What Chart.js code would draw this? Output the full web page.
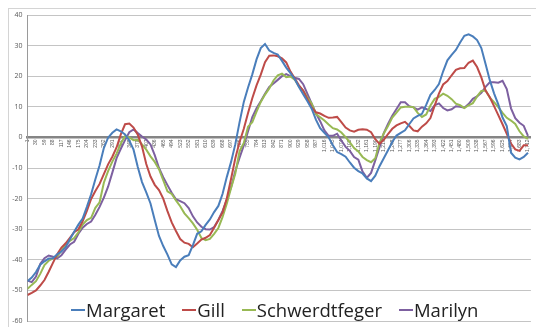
<!DOCTYPE html>
<html>
<head>
<meta charset="utf-8">
<script src="https://cdn.jsdelivr.net/npm/chart.js@4"></script>
<style>
  html, body { margin: 0; padding: 0; background: #fff; }
  #wrap { position: relative; width: 536px; height: 327px; }
  #frame { position: absolute; left: 8px; top: 8px; width: 527px; height: 318px; border: 1px solid #d4d4d4; border-right: none; border-bottom: none; }
  #grafico { position: absolute; left: 0; top: 0; }
  #legenda { position: absolute; left: 71px; top: 300px; display: flex; gap: 17px; font-family: "Open Sans", sans-serif; font-size: 18.5px; line-height: 20px; color: #222; }
  #legenda .item { display: flex; align-items: center; }
  #legenda .marca { width: 14px; height: 1.5px; margin-right: 1px; }
</style>
</head>
<body>
<div id="wrap">
  <div id="frame"></div>
  <canvas id="grafico" width="536" height="327"></canvas>
  <div id="legenda"></div>
</div>
<script>
// category positions (the tick labels of the x axis)
var categories = [1, 30, 59, 88, 117, 146, 175, 204, 233, 262, 291, 320, 349, 378, 407, 436, 465, 494, 523, 552,
  581, 610, 639, 668, 697, 726, 755, 784, 813, 842, 871, 900, 929, 958, 987, 1016, 1045, 1074, 1103, 1132,
  1161, 1190, 1219, 1248, 1277, 1306, 1335, 1364, 1393, 1422, 1451, 1480, 1509, 1538, 1567, 1596, 1625, 1654, 1683, 1712];

// values read at each category
var margaret = [-47, -44, -40.5, -39.5, -37.3, -33.3, -28.5, -22.7, -13.7, -3.5,
  1.5, 2, -1, -9.7, -18, -27, -35.5, -41.5, -40.2, -38.5,
  -31.5, -28.6, -24.4, -18.4, -8, 5, 16.3, 25.5, 30.5, 27.6,
  25, 21, 16.5, 11.8, 5.8, 1.5, -2.6, -5.5, -8.2, -11,
  -13.4, -12.5, -6.8, -1.5, 1.5, 4.3, 7, 10.6, 15.5, 21.6,
  27, 31, 33.7, 31.8, 24, 14.4, 6.5, -5, -7.2, -5];

var gill = [-51.5, -50, -46.6, -41, -36, -32.8, -30, -24, -17.5, -12,
  -6.3, 1, 4.5, 0.9, -8.7, -15.5, -20, -27.8, -33.2, -34.8,
  -34.7, -32.8, -29.5, -24.5, -13.5, -1.5, 8, 17, 24.6, 26.8,
  25.8, 21.5, 17, 12.5, 8.2, 7, 6.5, 5, 2.3, 2.5,
  2.5, -0.6, -0.8, 2.8, 4.6, 3.8, 2, 4.6, 10.4, 17.3,
  20.3, 22.6, 24.4, 23, 15.3, 10.2, 4.3, -2, -4.4, -2.6];

var schwerdtfeger = [-49.5, -47, -41.7, -39.5, -37, -33.8, -31, -27, -23, -14.8,
  -7.9, -2, 0, -0.8, -4, -8, -14, -18.5, -22.5, -26.4,
  -30.2, -33.6, -31.5, -26, -16.5, -4.5, 3.5, 8.4, 14, 18.6,
  20.8, 19.9, 16.7, 13, 7.6, 5.5, 3, 1.6, -1.6, -4.6,
  -7.4, -6.8, 1.3, 6.5, 9.8, 10, 8, 7.5, 12.6, 14.3,
  12.5, 10.5, 10.5, 13.4, 15.3, 11.5, 8, 5.5, 2, -0.5];

var marilyn = [-46.8, -45.5, -39.5, -39, -38.5, -35, -31.5, -28.3, -25.3, -19.7,
  -11.5, -3.7, 1.7, 1.4, -0.7, -5.8, -13, -18.1, -20.8, -23.1,
  -27.8, -30, -29.3, -24, -16.3, -6.6, 2, 9.5, 14.3, 17.6,
  20, 20, 19.1, 14.2, 7.9, 2.3, 0.5, -1, -4.4, -7.3,
  -13.2, -7.5, 1.4, 7.1, 11.5, 10.2, 9.1, 9.3, 10.5, 9.6,
  9.2, 10, 10.9, 13.4, 16.5, 18, 18.5, 9.5, 4.8, 0.5];

// values read halfway between two categories (keeps the ragged look)
var margaretMeio = [-45.8, -41.6, -39.6, -38.2, -35.9, -30.8, -26.5, -18.6, -9.1, -0.1,
  2.6, 1.0, -4.0, -14.6, -21.6, -32.2, -38.3, -42.4, -39.0, -35.2,
  -30.7, -26.8, -22.4, -12.9, -2.2, 11.6, 20.6, 29.2, 28.4, 27.1,
  22.8, 19.1, 14.1, 9.4, 3.0, 0.0, -4.8, -6.3, -9.9, -11.8,
  -14.3, -9.4, -4.2, 0.6, 2.3, 6.2, 7.7, 13.9, 17.4, 25.2,
  28.6, 33.2, 33.0, 29.2, 18.7, 10.8, 3.7, -6.6, -6.4];

var gillMeio = [-50.8, -48.4, -43.9, -38.2, -34.6, -31.0, -27.4, -20.1, -15.2, -8.8,
  -3.3, 4.3, 3.2, -3.0, -12.8, -17.2, -24.1, -30.6, -34.4, -35.9,
  -33.4, -31.9, -27.0, -19.9, -6.8, 2.8, 12.8, 20.5, 26.7, 26.5,
  24.5, 19.3, 15.3, 9.8, 7.8, 6.4, 6.7, 3.2, 1.9, 2.7,
  1.7, -2.1, 1.1, 3.9, 5.1, 2.3, 3.5, 6.3, 14.3, 18.4,
  22.1, 22.7, 25.1, 19.6, 13.1, 7.3, 1.2, -3.9, -2.6];

var schwerdtfegerMeio = [-48.2, -44.6, -40.3, -38.9, -35.0, -32.9, -28.5, -26.3, -21.2, -11.0,
  -5.3, 0.4, -0.9, -2.3, -6.2, -10.4, -17.6, -20.6, -24.8, -28.1,
  -32.9, -33.2, -29.6, -21.6, -11.8, -1.8, 5.0, 11.6, 16.0, 20.3,
  19.7, 18.9, 15.3, 11.1, 6.6, 4.2, 2.6, 0.1, -3.5, -6.4,
  -8.1, -1.7, 3.7, 8.1, 10.0, 9.9, 6.7, 10.4, 13.2, 13.6,
  11.0, 9.6, 11.2, 15.2, 13.0, 9.9, 6.4, 4.4, 0.3];

var marilynMeio = [-47.3, -41.4, -38.6, -39.5, -36.7, -34.1, -29.5, -27.5, -22.7, -16.1,
  -6.8, -0.9, 2.6, 0.3, -2.3, -10.0, -15.6, -20.2, -21.5, -25.8,
  -29.2, -30.1, -27.0, -20.3, -11.0, -2.6, 6.6, 11.8, 16.5, 18.8,
  20.7, 19.5, 17.4, 11.0, 5.3, 0.5, 1.2, -3.1, -6.4, -11.2,
  -11.6, -3.2, 4.4, 9.3, 11.5, 9.8, 9.8, 8.6, 11.1, 8.8,
  10.2, 9.7, 12.6, 14.6, 18.0, 17.9, 15.8, 6.3, 3.8];

var yTicks = [-60, -50, -40, -30, -20, -10, 0, 10, 20, 30, 40];

// merge the category values and the halfway values into one point list
function pontos(valores, meio) {
  var lista = [];
  categories.forEach(function (c, i) {
    lista.push({ x: c, y: valores[i] });
    if (i < meio.length) {
      lista.push({ x: (c + categories[i + 1]) / 2, y: meio[i] });
    }
  });
  return lista;
}

function serie(nome, valores, meio, cor) {
  return {
    label: nome,
    data: pontos(valores, meio),
    borderColor: cor,
    backgroundColor: cor,
    borderWidth: 2,
    pointRadius: 0,
    tension: 0,
    fill: false
  };
}

var ctx = document.getElementById("grafico");
var grafico = new Chart(ctx, {
  type: 'line',
  data: {
    datasets: [
      serie('Margaret', margaret, margaretMeio, '#4a7ebb'),
      serie('Gill', gill, gillMeio, '#be4b48'),
      serie('Schwerdtfeger', schwerdtfeger, schwerdtfegerMeio, '#98b954'),
      serie('Marilyn', marilyn, marilynMeio, '#7d60a0')
    ]
  },
  options: {
    responsive: false,
    animation: false,
    layout: { padding: { left: 8, top: 15, right: 3, bottom: 6 } },
    plugins: {
      legend: { display: false },
      tooltip: { enabled: false }
    },
    scales: {
      x: {
        type: 'linear',
        position: { y: 0 },
        min: 1,
        max: 1722,
        afterBuildTicks: function (scale) {
          scale.ticks = categories.map(function (v) { return { value: v }; });
        },
        ticks: {
          autoSkip: false,
          minRotation: 90,
          maxRotation: 90,
          padding: 2,
          color: '#5a5a5a',
          font: { family: 'Liberation Sans', size: 5 }
        },
        grid: { drawOnChartArea: false, drawTicks: false },
        border: { color: '#858585', width: 2.5 }
      },
      y: {
        min: -60,
        max: 40,
        afterBuildTicks: function (scale) {
          scale.ticks = yTicks.map(function (v) { return { value: v }; });
        },
        afterFit: function (scale) {
          scale.width = 19.5;
          // let the layout padding alone decide the top and bottom of the plot
          scale.paddingTop = 0;
          scale.paddingBottom = 0;
        },
        ticks: {
          padding: 5,
          color: '#595959',
          font: { family: 'Open Sans', size: 7 }
        },
        grid: { color: '#c4c4c4', lineWidth: 1, drawTicks: false },
        border: { color: '#9a9a9a', width: 1 }
      }
    }
  }
});

// legend as html, built from the datasets
var legenda = document.getElementById("legenda");
grafico.data.datasets.forEach(function (ds) {
  var item = document.createElement("div");
  item.className = "item";
  var marca = document.createElement("span");
  marca.className = "marca";
  marca.style.background = ds.borderColor;
  var texto = document.createElement("span");
  texto.textContent = ds.label;
  item.appendChild(marca);
  item.appendChild(texto);
  legenda.appendChild(item);
});
</script>
</body>
</html>
